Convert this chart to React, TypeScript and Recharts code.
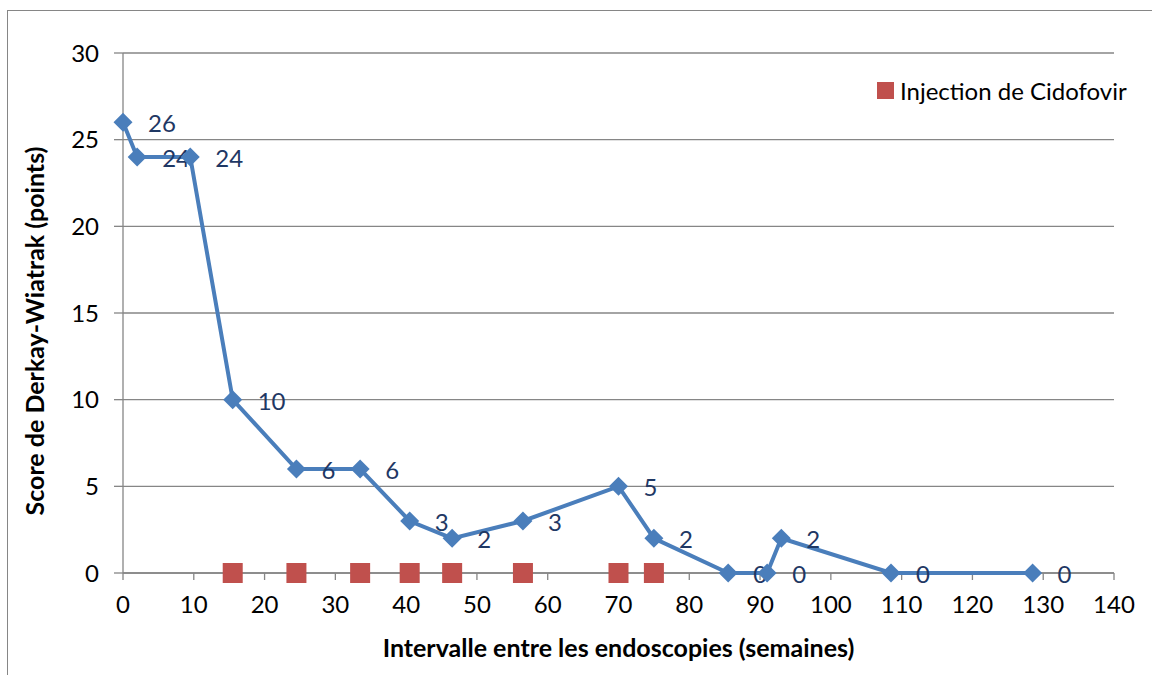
import React from 'react';
import {
    ScatterChart,
    Scatter,
    XAxis,
    YAxis,
    CartesianGrid,
    Legend,
} from 'recharts';

// weeks between endoscopies and Derkay-Wiatrak score
const weeks = [0, 2, 9.5, 15.5, 24.5, 33.5, 40.5, 46.5, 56.5, 70, 75, 85.5, 91, 93, 108.5, 128.5];
const scores = [26, 24, 24, 10, 6, 6, 3, 2, 3, 5, 2, 0, 0, 2, 0, 0];
const injectionWeeks = [15.5, 24.5, 33.5, 40.5, 46.5, 56.5, 70, 75];
const xTicks = [0, 10, 20, 30, 40, 50, 60, 70, 80, 90, 100, 110, 120, 130, 140];
const yTicks = [0, 5, 10, 15, 20, 25, 30];

const scoreData = weeks.map((w, i) => ({ x: w, y: scores[i] }));
const injectionData = injectionWeeks.map((w) => ({ x: w, y: 0 }));

const FONT = 'Lato, "Open Sans", sans-serif';
const BLUE = '#4a7ebb';
const RED = '#c0504d';
const GRID = '#868686';

const Diamond = (props: any) => {
    const { cx, cy, payload } = props;
    const r = 9.5;
    return (
        <g>
            <polygon
                points={`${cx},${cy - r} ${cx + r},${cy} ${cx},${cy + r} ${cx - r},${cy}`}
                fill={BLUE}
            />
            <text x={cx + 25} y={cy + 10} fill="#1f3864" fontSize={24} fontFamily={FONT}>
                {payload.y}
            </text>
        </g>
    );
};

const Square = (props: any) => {
    const { cx, cy } = props;
    return <rect x={cx - 10} y={cy - 10} width={20} height={20} fill={RED} />;
};

const LegendBox = () => (
    <div style={{ display: 'flex', alignItems: 'center', fontFamily: FONT, fontSize: 24, color: '#000', whiteSpace: 'nowrap' }}>
        <span style={{ display: 'inline-block', width: 17, height: 17, background: RED, marginRight: 6 }} />
        Injection de Cidofovir
    </div>
);

export default function App() {
    return (
        <div style={{ position: 'absolute', left: 0, top: 0, width: 1152, height: 675, background: '#fff', overflow: 'hidden' }}>
            <div style={{ position: 'absolute', left: 7, top: 10, width: 1300, height: 800, border: `1px solid ${GRID}` }} />
            <div style={{ position: 'absolute', left: 0, top: 0 }}>
                <ScatterChart width={1152} height={675} margin={{ top: 53, right: 38, left: 0, bottom: 17 }}>
                    <CartesianGrid vertical={false} stroke={GRID} strokeWidth={1.3} />
                    <XAxis
                        type="number"
                        dataKey="x"
                        domain={[0, 140]}
                        ticks={xTicks}
                        interval={0}
                        height={85}
                        stroke={GRID}
                        strokeWidth={1.3}
                        tickSize={7}
                        tickMargin={16}
                        tick={{ fill: '#000', fontSize: 24, fontFamily: FONT }}
                        label={{
                            value: 'Intervalle entre les endoscopies (semaines)',
                            position: 'insideBottom',
                            offset: 1,
                            fill: '#000',
                            fontSize: 25,
                            fontWeight: 'bold',
                            fontFamily: FONT,
                        }}
                    />
                    <YAxis
                        type="number"
                        dataKey="y"
                        domain={[0, 30]}
                        ticks={yTicks}
                        interval={0}
                        width={123}
                        stroke={GRID}
                        strokeWidth={1.3}
                        tickSize={9}
                        tickMargin={15}
                        tick={{ fill: '#000', fontSize: 24, fontFamily: FONT }}
                        label={{
                            value: 'Score de Derkay-Wiatrak (points)',
                            angle: -90,
                            position: 'center',
                            dx: -26,
                            dy: 18,
                            fill: '#000',
                            fontSize: 25,
                            fontWeight: 'bold',
                            fontFamily: FONT,
                        }}
                    />
                    <Legend
                        layout="vertical"
                        align="center"
                        verticalAlign="middle"
                        wrapperStyle={{ left: 877, top: 76, width: 'auto', height: 'auto' }}
                        content={LegendBox}
                    />
                    <Scatter
                        name="Score"
                        data={scoreData}
                        line={{ stroke: BLUE, strokeWidth: 4 }}
                        lineType="joint"
                        shape={Diamond}
                        fill={BLUE}
                        legendType="none"
                        isAnimationActive={false}
                    />
                    <Scatter
                        name="Injection de Cidofovir"
                        data={injectionData}
                        shape={Square}
                        fill={RED}
                        isAnimationActive={false}
                    />
                </ScatterChart>
            </div>
        </div>
    );
}
